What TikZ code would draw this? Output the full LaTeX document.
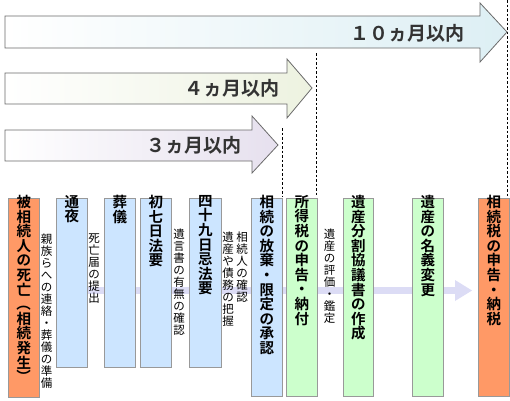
\documentclass[tikz,border=0pt]{standalone}
\usepackage{fontspec}
\usepackage{graphicx}
\newfontfamily\cjk[BoldFont={Noto Sans CJK JP Bold}]{Noto Sans CJK JP}
\definecolor{orangebox}{HTML}{FF9966}
\definecolor{bluebox}{HTML}{CCE5FF}
\definecolor{greenbox}{HTML}{CCFFCC}
\definecolor{boxline}{HTML}{999999}
\definecolor{bandc}{HTML}{DCDCF5}
\definecolor{arrline}{HTML}{6A6A6A}
\definecolor{arrA}{HTML}{DDEFF4}
\definecolor{arrB}{HTML}{EDF2E0}
\definecolor{arrC}{HTML}{E6E0EE}
\definecolor{arrtext}{HTML}{333333}
\newcommand\rp[1]{\rotatebox[origin=c]{-90}{#1}}
\begin{document}
\begin{tikzpicture}[x=1pt,y=-1pt,
  stepbox/.style={draw=boxline, line width=0.9pt, anchor=north west, inner sep=0pt},
  boxtext/.style={anchor=north, inner sep=0pt, align=center, font=\cjk\bfseries\fontsize{14.5}{14.6}\selectfont},
  smalltext/.style={anchor=north, inner sep=0pt, align=center, font=\cjk\fontsize{11.5}{12}\selectfont},
  arrtxt/.style={inner sep=0pt, text=arrtext, font=\cjk\bfseries\fontsize{19}{20}\selectfont},
  bigarrow/.style={draw=arrline, line width=0.8pt},
  guide/.style={black, line width=0.7pt, dash pattern=on 2.5pt off 2pt}
]
\useasboundingbox (0,0) rectangle (510,400);

% guide lines
\coordinate (g1t) at (507,0);   \coordinate (g1b) at (507,196);
\coordinate (g2t) at (316,53);  \coordinate (g2b) at (316,196);
\coordinate (g3t) at (282,128); \coordinate (g3b) at (282,196);
\draw[guide] (g1t) -- (g1b);
\draw[guide] (g2t) -- (g2b);
\draw[guide] (g3t) -- (g3b);

% period arrows
\shade[bigarrow, left color=white, right color=arrA]
  (5,16) -- (480,16) -- (480,3) -- (507,32) -- (480,62) -- (480,48) -- (5,48) -- cycle;
\node[arrtxt] (a10) at (407,33) {１０ヵ月以内};
\shade[bigarrow, left color=white, right color=arrB]
  (5,73) -- (287,73) -- (287,59) -- (312,88) -- (287,118) -- (287,104) -- (5,104) -- cycle;
\node[arrtxt] (a4) at (232,88) {４ヵ月以内};
\shade[bigarrow, left color=white, right color=arrC]
  (5,130) -- (252,130) -- (252,116) -- (278,145) -- (252,173) -- (252,161) -- (5,161) -- cycle;
\node[arrtxt] (a3) at (194,145) {３ヵ月以内};

% background flow band
\fill[bandc] (56,287) rectangle (456,294);
\fill[bandc] (455,280) -- (472,290.5) -- (455,301) -- cycle;

% boxes
\node[stepbox, fill=orangebox, minimum width=31, minimum height=199] (b1) at (8,198) {};
\node[stepbox, fill=bluebox, minimum width=31, minimum height=169] (b2) at (56,198) {};
\node[stepbox, fill=bluebox, minimum width=31, minimum height=169] (b3) at (104,198) {};
\node[stepbox, fill=bluebox, minimum width=31, minimum height=169] (b4) at (140,198) {};
\node[stepbox, fill=bluebox, minimum width=32, minimum height=169] (b5) at (189,198) {};
\node[stepbox, fill=bluebox, minimum width=31, minimum height=198] (b6) at (251,198) {};
\node[stepbox, fill=greenbox, minimum width=31, minimum height=198] (b7) at (286,198) {};
\node[stepbox, fill=greenbox, minimum width=30, minimum height=198] (b8) at (343,198) {};
\node[stepbox, fill=greenbox, minimum width=31, minimum height=198] (b9) at (412,198) {};
\node[stepbox, fill=orangebox, minimum width=31, minimum height=198] (b10) at (478,198) {};

% box texts
\node[boxtext] (t1) at ([yshift=3]b1.north) {被\\相\\続\\人\\の\\死\\亡\\\rp{（}\\相\\続\\発\\生\\\rp{）}};
\node[boxtext] (t2) at ([yshift=3]b2.north) {通\\夜};
\node[boxtext] (t3) at ([yshift=3]b3.north) {葬\\儀};
\node[boxtext] (t4) at ([yshift=3]b4.north) {初\\七\\日\\法\\要};
\node[boxtext] (t5) at ([yshift=3]b5.north) {四\\十\\九\\日\\忌\\法\\要};
\node[boxtext] (t6) at ([yshift=3]b6.north) {相\\続\\の\\放\\棄\\・\\限\\定\\の\\承\\認};
\node[boxtext] (t7) at ([yshift=3]b7.north) {所\\得\\税\\の\\申\\告\\・\\納\\付};
\node[boxtext] (t8) at ([yshift=3]b8.north) {遺\\産\\分\\割\\協\\議\\書\\の\\作\\成};
\node[boxtext] (t9) at ([yshift=3]b9.north) {遺\\産\\の\\名\\義\\変\\更};
\node[boxtext] (t10) at ([yshift=3]b10.north) {相\\続\\税\\の\\申\\告\\・\\納\\税};

% small vertical notes
\node[smalltext] (n1) at (46.5,234) {親\\族\\ら\\へ\\の\\連\\絡\\・\\葬\\儀\\の\\準\\備};
\node[smalltext] (n2) at (94,234) {死\\亡\\届\\の\\提\\出};
\node[smalltext] (n3) at (179,229) {遺\\言\\書\\の\\有\\無\\の\\確\\認};
\node[smalltext] (n4) at (242,232) {相\\続\\人\\の\\確\\認};
\node[smalltext] (n5) at (228,232) {遺\\産\\や\\債\\務\\の\\把\\握};
\node[smalltext] (n6) at (329.5,229) {遺\\産\\の\\評\\価\\・\\鑑\\定};
\end{tikzpicture}
\end{document}
